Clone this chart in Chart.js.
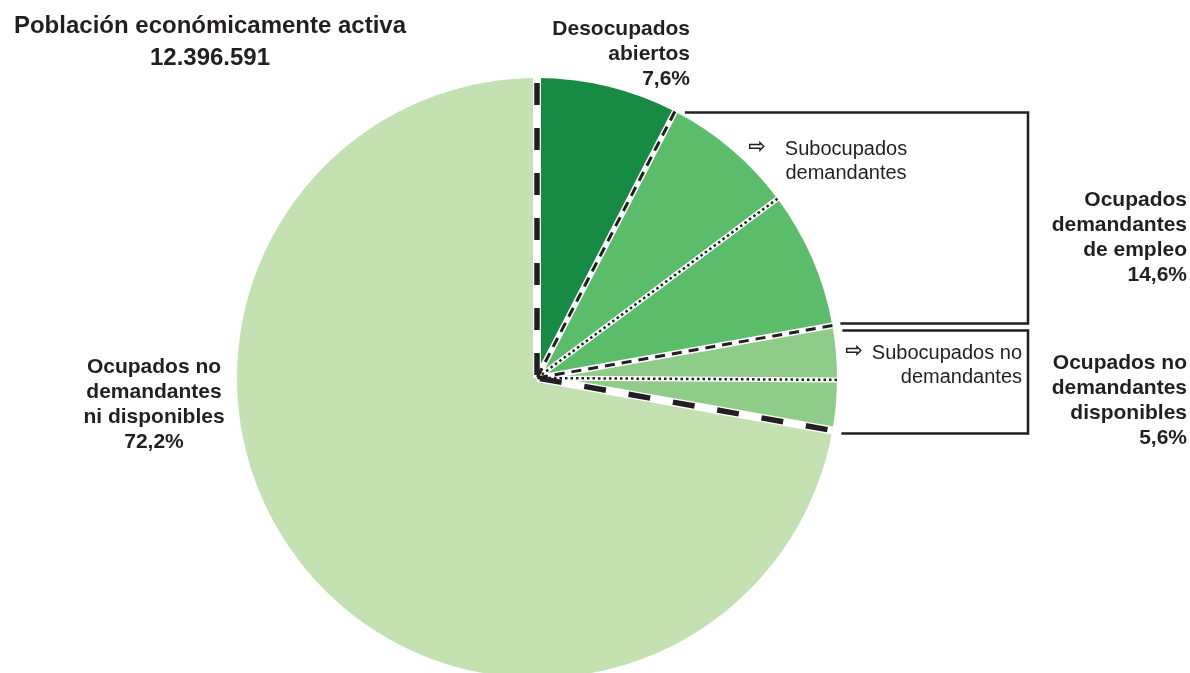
<!DOCTYPE html>
<html>
<head>
<meta charset="utf-8">
<script src="https://cdn.jsdelivr.net/npm/chart.js@4.4.0/dist/chart.umd.min.js"></script>
<style>
  html, body { margin: 0; padding: 0; background: #fff; overflow: hidden; }
  #wrap { position: absolute; left: 0; top: 0; width: 1190px; height: 690px; }
</style>
</head>
<body>
<div id="wrap"><canvas id="chart" width="1190" height="690"></canvas></div>
<script>
// slices clockwise from the top
const categories = [
  "Desocupados abiertos",
  "Subocupados demandantes",
  "Otros ocupados demandantes",
  "Subocupados no demandantes",
  "Otros ocupados no demandantes disponibles",
  "Ocupados no demandantes ni disponibles"
];
const shares = [7.6, 7.2, 7.4, 2.9, 2.7, 72.2];
const sliceColors = ["#178a44", "#5bbd6a", "#5bbd6a", "#8fcc8a", "#8fcc8a", "#c4e1b2"];
// line drawn at the start of each slice
const separators = ["thick", "dash", "dot", "dash", "dot", "thick"];

const titleLines = ["Población económicamente activa", "12.396.591"];
const labelDesocupados = ["Desocupados", "abiertos", "7,6%"];
const labelDemandantes = ["Ocupados", "demandantes", "de empleo", "14,6%"];
const labelDisponibles = ["Ocupados no", "demandantes", "disponibles", "5,6%"];
const labelResto = ["Ocupados no", "demandantes", "ni disponibles", "72,2%"];
const labelSubDem = ["Subocupados", "demandantes"];
const labelSubNoDem = ["Subocupados no", "demandantes"];

const INK = "#231f20";
const FONT = '"Liberation Sans", Arial, sans-serif';

const lineStyles = {
  thick: { white: 8, width: 5.5, dash: [22, 23], offset: -5, cap: "butt" },
  dash: { white: 6, width: 3, dash: [10, 7], offset: 0, cap: "butt" },
  dot: { white: 5, width: 2.5, dash: [2.5, 3], offset: 0, cap: "butt" }
};

function edgePoint(arc) {
  const p = arc.getProps(["x", "y", "startAngle", "outerRadius"], true);
  return {
    cx: p.x, cy: p.y,
    x: p.x + Math.cos(p.startAngle) * p.outerRadius,
    y: p.y + Math.sin(p.startAngle) * p.outerRadius
  };
}

const separatorPlugin = {
  id: "separators",
  afterDatasetsDraw(chart) {
    const ctx = chart.ctx;
    const arcs = chart.getDatasetMeta(0).data;
    const pts = arcs.map(edgePoint);
    ctx.save();
    // white gaps first, then the black strokes on top
    pts.forEach((p, i) => {
      const st = lineStyles[separators[i]];
      ctx.beginPath();
      ctx.moveTo(p.x, p.y);
      ctx.lineTo(p.cx, p.cy);
      ctx.strokeStyle = "#fff";
      ctx.lineWidth = st.white;
      ctx.stroke();
    });
    pts.forEach((p, i) => {
      const st = lineStyles[separators[i]];
      ctx.beginPath();
      ctx.moveTo(p.x, p.y);
      ctx.lineTo(p.cx, p.cy);
      ctx.setLineDash(st.dash);
      ctx.lineDashOffset = st.offset;
      ctx.lineCap = st.cap;
      ctx.strokeStyle = INK;
      ctx.lineWidth = st.width;
      ctx.stroke();
    });
    ctx.restore();
  }
};

function drawLines(ctx, lines, x, y0, step, align) {
  ctx.textAlign = align;
  lines.forEach((t, i) => ctx.fillText(t, x, y0 + i * step));
}

const labelPlugin = {
  id: "labels",
  afterDraw(chart) {
    const ctx = chart.ctx;
    const arcs = chart.getDatasetMeta(0).data;
    const p1 = edgePoint(arcs[1]);
    const p3 = edgePoint(arcs[3]);
    const p5 = edgePoint(arcs[5]);
    const RX = 1028;

    ctx.save();
    // brackets
    ctx.strokeStyle = INK;
    ctx.lineWidth = 2.5;
    ctx.lineJoin = "miter";
    ctx.beginPath();
    ctx.moveTo(p1.x + 10, p1.y + 1);
    ctx.lineTo(RX, p1.y + 1);
    ctx.lineTo(RX, p3.y - 2);
    ctx.lineTo(p3.x + 8, p3.y - 2);
    ctx.stroke();
    ctx.beginPath();
    ctx.moveTo(p3.x + 10, p3.y + 5);
    ctx.lineTo(RX, p3.y + 5);
    ctx.lineTo(RX, p5.y + 3);
    ctx.lineTo(p5.x + 9, p5.y + 3);
    ctx.stroke();

    ctx.fillStyle = INK;
    ctx.textBaseline = "alphabetic";
    ctx.font = "bold 24px " + FONT;
    drawLines(ctx, titleLines, 210, 33, 32, "center");

    ctx.font = "bold 21px " + FONT;
    drawLines(ctx, labelDesocupados, 690, 35, 25, "right");
    drawLines(ctx, labelDemandantes, 1187, 206, 25, "right");
    drawLines(ctx, labelDisponibles, 1187, 369, 25, "right");
    drawLines(ctx, labelResto, 154, 373, 25, "center");

    ctx.font = "20px " + FONT;
    drawLines(ctx, labelSubDem, 846, 155, 23.5, "center");
    drawLines(ctx, labelSubNoDem, 1022, 359, 23.5, "right");

    ctx.font = 'bold 21px "DejaVu Sans", sans-serif';
    ctx.textAlign = "center";
    ctx.textBaseline = "middle";
    ctx.fillText("\u21E8", 757, 148);
    ctx.fillText("\u21E8", 854, 352);
    ctx.restore();
  }
};

new Chart(document.getElementById("chart"), {
  type: "pie",
  data: {
    labels: categories,
    datasets: [{
      data: shares,
      backgroundColor: sliceColors,
      borderWidth: 0,
      hoverOffset: 0
    }]
  },
  options: {
    responsive: false,
    animation: false,
    events: [],
    layout: { padding: { left: 237, right: 353, top: 78, bottom: 12 } },
    plugins: {
      legend: { display: false },
      tooltip: { enabled: false }
    }
  },
  plugins: [separatorPlugin, labelPlugin]
});
</script>
</body>
</html>
